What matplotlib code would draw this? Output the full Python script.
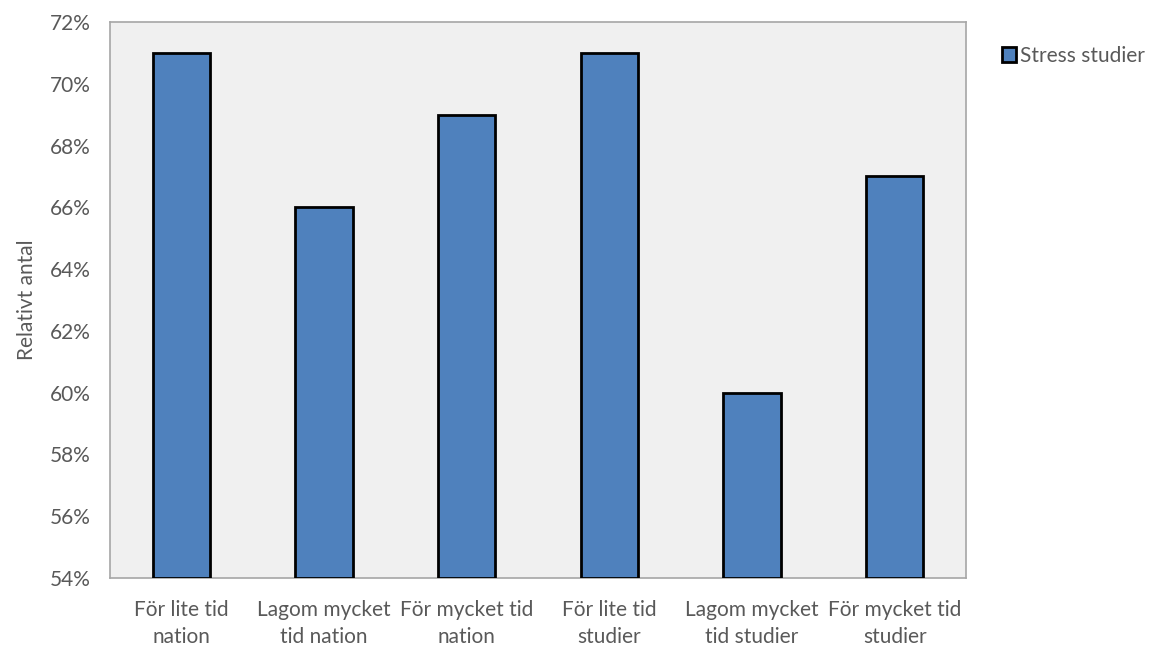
import matplotlib
matplotlib.use('Agg')
import matplotlib.pyplot as plt
from matplotlib.ticker import FuncFormatter

# Andel som upplever stress i studierna, per tidsgrupp
categories = ['För lite tid\nnation', 'Lagom mycket\ntid nation', 'För mycket tid\nnation',
              'För lite tid\nstudier', 'Lagom mycket\ntid studier', 'För mycket tid\nstudier']
stress_studier = [0.71, 0.66, 0.69, 0.71, 0.60, 0.67]

plt.rcParams['font.family'] = ['Lato', 'DejaVu Sans']
text_color = '#595959'
fs = 15

fig = plt.figure(figsize=(11.61, 6.49), dpi=100)
ax = fig.add_axes([110 / 1161, 1 - 578 / 649, (966 - 110) / 1161, (578 - 22) / 649])
ax.set_facecolor('#F0F0F0')

x = range(len(categories))
ax.bar(x, [v - 0.54 for v in stress_studier], bottom=0.54, width=0.4,
       color='#4F81BD', edgecolor='black', linewidth=2, label='Stress studier', zorder=3)

ax.set_xlim(-0.5, len(categories) - 0.5)
ax.set_ylim(0.54, 0.72)
ax.set_yticks([0.54 + 0.02 * i for i in range(10)])
ax.yaxis.set_major_formatter(FuncFormatter(lambda v, _: f'{round(v * 100)}%'))
ax.set_xticks(list(x))
ax.set_xticklabels(categories, linespacing=1.45)
ax.tick_params(length=0, labelsize=fs, colors=text_color)
ax.tick_params(axis='x', pad=16)
ax.tick_params(axis='y', pad=14)

for side in ['left', 'right', 'top', 'bottom']:
    ax.spines[side].set_color('#A6A6A6')
    ax.spines[side].set_linewidth(1.2)

ax.set_ylabel('Relativt antal', fontsize=fs, color=text_color, labelpad=9)

ax.legend(loc='upper left', bbox_to_anchor=(1.032, 0.972), frameon=False,
          fontsize=fs, labelcolor=text_color, handlelength=0.7, handleheight=0.7,
          handletextpad=0.2, borderaxespad=0)

fig.savefig('out.png', dpi=100)
